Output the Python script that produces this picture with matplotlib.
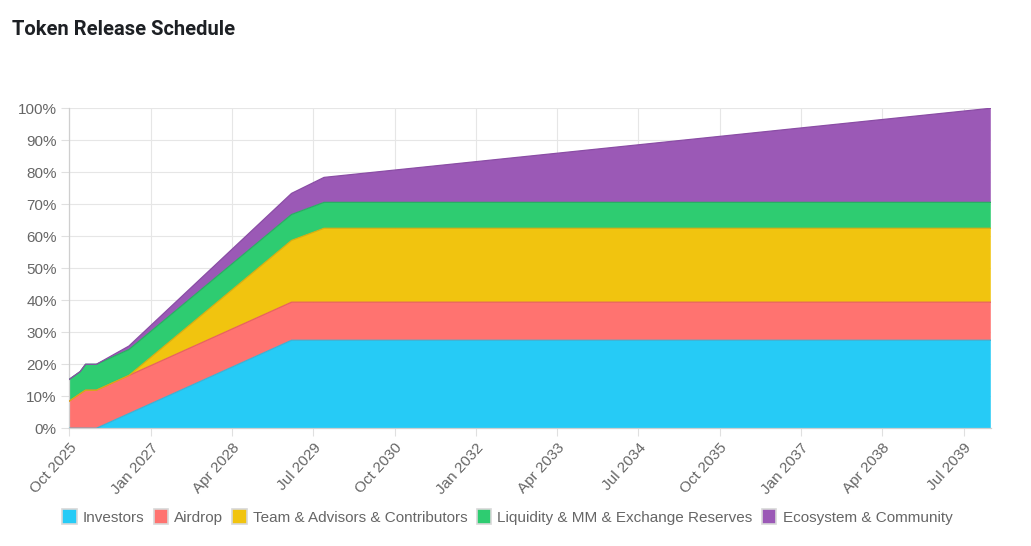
import matplotlib
matplotlib.use("Agg")
import matplotlib.pyplot as plt
import matplotlib.patches as mpatches
import numpy as np
import pandas as pd

plt.rcParams.update({
    "font.family": ["Liberation Sans", "DejaVu Sans"],
    "font.size": 11,
})

# breakpoints of the schedule (monthly unlock curve, straight between them)
BREAKS = ["Oct 2025", "Dec 2025", "Jan 2026", "Mar 2026", "Sep 2026",
          "Mar 2029", "Sep 2029", "Dec 2039"]

investors = [0, 0, 0, 0, 4.6, 27.5, 27.5, 27.5]
airdrop   = [8.5, 10.8, 11.9, 11.9, 11.9, 11.9, 11.9, 11.9]
team      = [0, 0, 0, 0, 0, 19.3, 23.1, 23.1]
liquidity = [6.8, 6.9, 8.1, 8.1, 8.1, 8.1, 8.1, 8.1]
ecosystem = [0, 0, 0, 0, 1.1, 6.6, 7.8, 29.4]

SERIES = ["Investors", "Airdrop", "Team & Advisors & Contributors",
          "Liquidity & MM & Exchange Reserves", "Ecosystem & Community"]
COLORS = ["#26CBF6", "#FF7370", "#F1C40F", "#2ECC71", "#9B59B6"]
EDGES  = ["#3AB3D6", "#E8615F", "#D9AE10", "#27B062", "#8A4DA5"]

TICK_LABELS = ["Oct 2025", "Jan 2027", "Apr 2028", "Jul 2029", "Oct 2030",
               "Jan 2032", "Apr 2033", "Jul 2034", "Oct 2035", "Jan 2037",
               "Apr 2038", "Jul 2039"]

START = pd.Period("Oct 2025", freq="M")


def month_idx(label):
    return (pd.Period(label, freq="M") - START).n


x = np.array([month_idx(b) for b in BREAKS])
ys = np.array([investors, airdrop, team, liquidity, ecosystem])

fig = plt.figure(figsize=(10.31, 5.46), dpi=100)
ax = fig.add_axes([0.0672, 0.2156, 0.8938, 0.5861])

ax.stackplot(x, ys, colors=COLORS, linewidth=0, zorder=2)
tops = np.cumsum(ys, axis=0)
for top, ec in zip(tops, EDGES):
    ax.plot(x, top, color=ec, lw=0.9, zorder=3)

ax.set_xlim(x[0], x[-1])
ax.set_ylim(0, 100)
ax.set_yticks(np.arange(0, 101, 10))
ax.set_yticklabels([f"{v}%" for v in range(0, 101, 10)])
ax.set_xticks([month_idx(t) for t in TICK_LABELS])
ax.set_xticklabels(TICK_LABELS, rotation=48, ha="right",
                   rotation_mode="anchor")

ax.grid(True, color="#e6e6e6", lw=0.8, zorder=0)
ax.set_axisbelow(True)
for s in ["top", "right"]:
    ax.spines[s].set_visible(False)
for s in ["left", "bottom"]:
    ax.spines[s].set_color("#cfcfcf")
    ax.spines[s].set_linewidth(0.9)
ax.tick_params(axis="both", colors="#e0e0e0", labelcolor="#666666",
               labelsize=11, length=6, width=0.8, pad=3)

fig.text(0.0117, 0.946, "Token Release Schedule", fontsize=14.5,
         fontweight="bold", family="Roboto", color="#1d2024",
         va="center", ha="left")

handles = [mpatches.Patch(facecolor=c, edgecolor="#d8d8d8", lw=1.2, label=n)
           for c, n in zip(COLORS, SERIES)]
fig.legend(handles=handles, loc="center", bbox_to_anchor=(0.492, 0.053),
           ncol=5, frameon=False, fontsize=11, labelcolor="#666666",
           handlelength=0.95, handleheight=1.1, handletextpad=0.4,
           columnspacing=0.6, borderaxespad=0)

fig.savefig("out.png", dpi=100)
